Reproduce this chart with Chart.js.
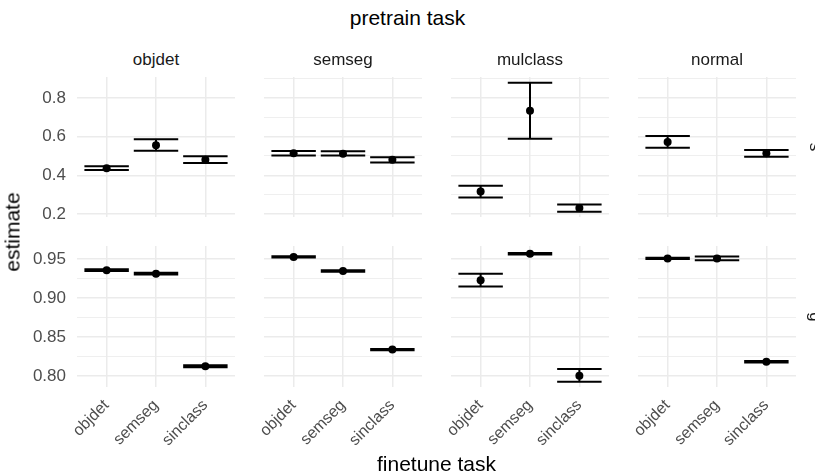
<!DOCTYPE html>
<html>
<head>
<meta charset="utf-8">
<script src="https://cdn.jsdelivr.net/npm/chart.js@4.4.1/dist/chart.umd.min.js"></script>
<style>
  body { margin: 0; width: 815px; height: 476px; overflow: hidden; background: #fff; position: relative;
         font-family: "Liberation Sans", Arial, sans-serif; }
  canvas { position: absolute; }
  .lbl { position: absolute; white-space: nowrap; line-height: 1; transform: translate(-50%, -50%); z-index: 2; }
</style>
</head>
<body>
<script>
const finetune = ['objdet', 'semseg', 'sinclass']
const pretrain = ['objdet', 'semseg', 'mulclass', 'normal']
const rowStrips = ['s', 'g']

// top row: estimate, lower, upper per pretrain task (finetune order)
const topEst = [[0.437, 0.556, 0.481], [0.514, 0.512, 0.480], [0.316, 0.734, 0.231], [0.573, null, 0.514]]
const topLo  = [[0.427, 0.527, 0.464], [0.503, 0.502, 0.466], [0.285, 0.589, 0.211], [0.543, null, 0.496]]
const topHi  = [[0.447, 0.586, 0.498], [0.526, 0.524, 0.494], [0.346, 0.879, 0.249], [0.603, null, 0.531]]

// bottom row
const botEst = [[0.936, 0.9315, 0.8125], [0.953, 0.935, 0.834], [0.923, 0.957, 0.8005], [0.951, 0.951, 0.8185]]
const botLo  = [[0.935, 0.9304, 0.8112], [0.9521, 0.9341, 0.8331], [0.915, 0.9560, 0.7927], [0.9502, 0.9486, 0.8176]]
const botHi  = [[0.937, 0.9326, 0.8138], [0.9539, 0.9359, 0.8349], [0.9315, 0.9580, 0.809], [0.9518, 0.9534, 0.8194]]

const topTicks = [0.2, 0.4, 0.6, 0.8]
const topTickLabels = ['0.2', '0.4', '0.6', '0.8']
const topMinor = [0.3, 0.5, 0.7, 0.9]
const botTicks = [0.80, 0.85, 0.90, 0.95]
const botTickLabels = ['0.80', '0.85', '0.90', '0.95']
const botMinor = [0.825, 0.875, 0.925]

// layout
const FONT = '"Liberation Sans", Arial, sans-serif'
const panelLeft = [77, 264, 451, 638]
const panelW = 158
const rowTop = [77, 246]
const rowH = [140, 141]
const yRange = [[0.184, 0.909], [0.786, 0.967]]
const axisW = 60
const axisH = [14, 80]   // room under each row (top row only needs space for the lowest y label)
const GRID = '#EBEBEB'

// vertical error bars with caps, drawn under the points
const errorBars = {
  id: 'errorBars',
  beforeDatasetsDraw(chart, args, opts) {
    const { ctx } = chart
    const x = chart.scales.x
    const y = chart.scales.y
    ctx.save()
    ctx.strokeStyle = '#000'
    ctx.lineWidth = 2
    opts.lo.forEach((lo, i) => {
      if (lo == null) return
      const hi = opts.hi[i]
      const px = x.getPixelForValue(i + 1)
      const x0 = x.getPixelForValue(i + 1 - 0.45)
      const x1 = x.getPixelForValue(i + 1 + 0.45)
      const yl = y.getPixelForValue(lo)
      const yh = y.getPixelForValue(hi)
      ctx.beginPath()
      ctx.moveTo(px, yl); ctx.lineTo(px, yh)
      ctx.moveTo(x0, yl); ctx.lineTo(x1, yl)
      ctx.moveTo(x0, yh); ctx.lineTo(x1, yh)
      ctx.stroke()
    })
    ctx.restore()
  }
}

function addLabel(text, cx, cy, size, color, rotate) {
  const d = document.createElement('div')
  d.className = 'lbl'
  d.textContent = text
  d.style.left = cx + 'px'
  d.style.top = cy + 'px'
  d.style.fontSize = size + 'px'
  d.style.color = color
  if (rotate) d.style.transform = 'translate(-50%, -50%) rotate(' + rotate + 'deg)'
  document.body.appendChild(d)
}

function makePanel(r, c) {
  const est = r === 0 ? topEst[c] : botEst[c]
  const lo = r === 0 ? topLo[c] : botLo[c]
  const hi = r === 0 ? topHi[c] : botHi[c]
  const major = r === 0 ? topTicks : botTicks
  const labels = r === 0 ? topTickLabels : botTickLabels
  const minor = r === 0 ? topMinor : botMinor

  const canvas = document.createElement('canvas')
  canvas.width = axisW + panelW
  canvas.height = rowH[r] + axisH[r]
  canvas.style.left = (panelLeft[c] - axisW) + 'px'
  canvas.style.top = rowTop[r] + 'px'
  document.body.appendChild(canvas)

  const points = []
  est.forEach((v, i) => { if (v != null) points.push({ x: i + 1, y: v }) })

  new Chart(canvas, {
    type: 'scatter',
    data: {
      datasets: [{
        data: points,
        backgroundColor: '#000',
        borderColor: '#000',
        pointRadius: 4,
        pointHoverRadius: 4,
        borderWidth: 0,
        clip: false
      }]
    },
    options: {
      responsive: false,
      animation: false,
      events: [],
      layout: { padding: 0, autoPadding: false },
      plugins: {
        legend: { display: false },
        tooltip: { enabled: false },
        errorBars: { lo, hi }
      },
      scales: {
        x: {
          type: 'linear',
          min: 0.4,
          max: 3.6,
          border: { display: false },
          grid: { color: GRID, lineWidth: 1.5, drawTicks: false },
          afterBuildTicks: s => { s.ticks = finetune.map((_, i) => ({ value: i + 1 })) },
          afterFit: s => {
            s.height = axisH[r]
            s.paddingLeft = 0; s.paddingRight = 0
          },
          ticks: {
            display: r === 1,
            autoSkip: false,
            minRotation: 45,
            maxRotation: 45,
            padding: 9,
            color: '#4D4D4D',
            font: { size: 16, family: FONT },
            callback: v => finetune[v - 1]
          }
        },
        y: {
          min: yRange[r][0],
          max: yRange[r][1],
          border: { display: false },
          grid: {
            color: GRID,
            drawTicks: false,
            lineWidth: ctx => (minor.includes(ctx.tick.value) ? 0.8 : 1.5)
          },
          afterBuildTicks: s => {
            s.ticks = major.concat(minor).sort((a, b) => a - b).map(v => ({ value: v }))
          },
          afterFit: s => {
            s.width = axisW
            s.paddingTop = 0; s.paddingBottom = 0
          },
          ticks: {
            display: c === 0,
            padding: 11,
            color: '#4D4D4D',
            font: { size: 17, family: FONT },
            callback: v => {
              const k = major.indexOf(v)
              return k < 0 ? '' : labels[k]
            }
          }
        }
      }
    },
    plugins: [errorBars]
  })
}

for (let r = 0; r < 2; r++) {
  for (let c = 0; c < 4; c++) makePanel(r, c)
}

// titles and strips
const plotMid = (panelLeft[0] + panelLeft[3] + panelW) / 2
addLabel('pretrain task', 407.5, 17, 21, '#000')
pretrain.forEach((p, c) => addLabel(p, panelLeft[c] + panelW / 2, 59, 17, '#1A1A1A'))
rowStrips.forEach((s, r) => addLabel(s, 815, rowTop[r] + rowH[r] / 2, 17, '#1A1A1A', 90))
addLabel('estimate', 12, (rowTop[0] + rowTop[1] + rowH[1]) / 2, 21, '#000', -90)
addLabel('finetune task', plotMid, 463, 21, '#000')
</script>
</body>
</html>
